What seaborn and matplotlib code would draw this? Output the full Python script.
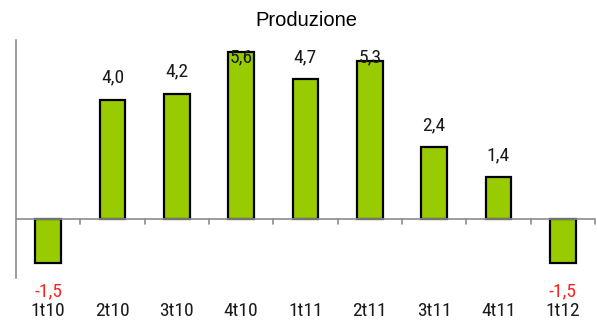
import matplotlib
matplotlib.use("Agg")
import matplotlib.pyplot as plt
import matplotlib.transforms as mtransforms
from matplotlib import font_manager
import seaborn as sns
import pandas as pd

# Quarterly production growth
quarters = ["1t10", "2t10", "3t10", "4t10", "1t11", "2t11", "3t11", "4t11", "1t12"]
values = [-1.5, 4.0, 4.2, 5.6, 4.7, 5.3, 2.4, 1.4, -1.5]
value_labels = ["-1,5", "4,0", "4,2", "5,6", "4,7", "5,3", "2,4", "1,4", "-1,5"]
title = "Produzione"


def pick_narrow_font():
    """Return a condensed family if one is installed, with a matching size."""
    for fam in ["Liberation Sans Narrow", "Roboto Condensed", "DejaVu Sans Condensed"]:
        try:
            font_manager.findfont(font_manager.FontProperties(family=fam),
                                  fallback_to_default=False)
            return fam, 14
        except ValueError:
            continue
    return "Liberation Sans", 12.5


label_font, label_size = pick_narrow_font()

df = pd.DataFrame({"quarter": quarters, "value": values})

sns.set_style("white")
plt.rcParams["font.family"] = [label_font, "DejaVu Sans"]

fig = plt.figure(figsize=(5.97, 3.24), dpi=100)
ax = fig.add_axes([16 / 597, 1 - 278 / 324, 579 / 597, 238 / 324])

sns.barplot(data=df, x="quarter", y="value", color="#99CC00", width=0.4,
            edgecolor="black", linewidth=1.6, saturation=1, ax=ax)

ax.set_xlim(-0.5, len(quarters) - 0.5)
ax.set_ylim(-2, 6)
ax.set_xlabel("")
ax.set_ylabel("")
ax.set_yticks([])

for side in ["top", "right", "bottom"]:
    ax.spines[side].set_visible(False)
ax.spines["left"].set_color("#8c8c8c")
ax.spines["left"].set_linewidth(1.2)

# zero line with category separators
grey = "#8c8c8c"
ax.axhline(0, color=grey, lw=1.2, zorder=3)
for b in [i + 0.5 for i in range(len(quarters))]:
    ax.plot([b, b], [0, -0.17], color=grey, lw=1.2, clip_on=False, zorder=3)

ax.set_xticks(range(len(quarters)))
ax.set_xticklabels(quarters, fontsize=label_size, color="#1a1a1a")
ax.tick_params(axis="x", length=0, pad=17.5)

# value labels
trans_neg = mtransforms.blended_transform_factory(ax.transData, ax.transAxes)
for i, (v, lab) in enumerate(zip(values, value_labels)):
    if v >= 0:
        y = min(v + 0.73, 5.4)
        ax.text(i, y, lab, ha="center", va="center", fontsize=label_size,
                color="#1a1a1a", zorder=5)
    else:
        ax.text(i, -0.055, lab, transform=trans_neg, ha="center", va="center",
                fontsize=label_size, color="#ff2020", clip_on=False)

fig.text(306 / 597, 1 - 20 / 324, title, ha="center", va="center",
         fontsize=14.5, color="black",
         family=["Liberation Sans", "DejaVu Sans"])

fig.savefig("out.png", dpi=100, facecolor="white")
